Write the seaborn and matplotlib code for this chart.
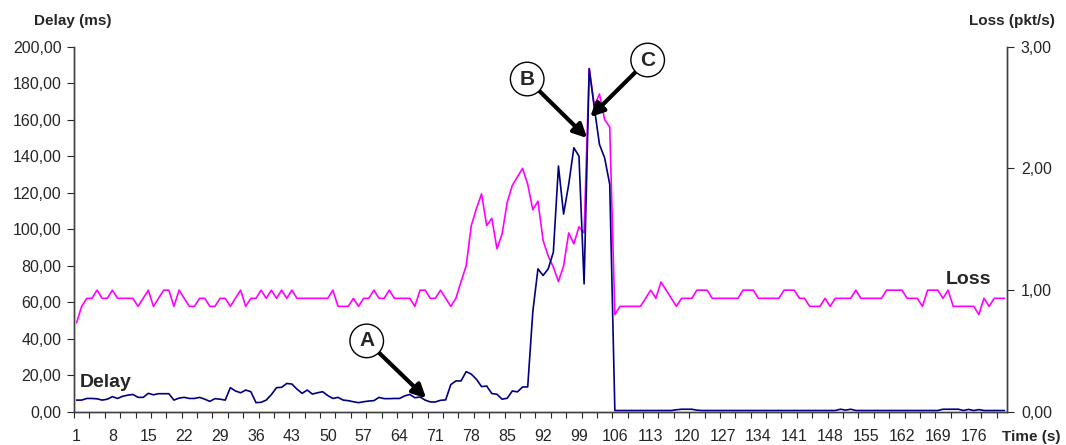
import matplotlib
matplotlib.use("Agg")
import matplotlib.pyplot as plt
import seaborn as sns
import pandas as pd
import numpy as np

# Delay (ms), one value per second
delay = [6.5, 6.5, 7.4, 7.4, 7.2, 6.5, 7.0, 8.4, 7.4, 8.6,
         9.2, 9.6, 8.0, 8.0, 10.2, 9.4, 10.0, 10.0, 10.0, 6.5,
         7.6, 8.0, 7.4, 7.4, 8.0, 7.0, 5.8, 7.3, 7.0, 6.5,
         13.3, 11.5, 10.5, 12.0, 11.1, 5.1, 5.3, 6.5, 9.5, 13.3,
         13.5, 15.6, 15.3, 12.5, 10.2, 12.0, 9.8, 10.5, 11.1, 9.0,
         7.4, 8.0, 6.5, 6.2, 5.6, 5.1, 5.6, 6.0, 6.2, 8.0,
         7.3, 7.3, 7.4, 7.4, 8.8, 9.6, 7.8, 8.2, 6.5, 5.5,
         5.5, 6.4, 6.6, 15.0, 17.0, 17.0, 22.1, 20.7, 17.9, 13.9,
         14.2, 10.1, 9.7, 7.0, 7.5, 11.5, 11.0, 13.7, 13.7, 55.0,
         78.3, 74.7, 78.3, 87.4, 134.6, 108.3, 124.6, 144.6, 140.0, 70.1,
         187.8, 166.4, 146.4, 139.1, 124.6, 0.8, 0.8, 0.8, 0.8, 0.8,
         0.8, 0.8, 0.8, 0.8, 0.8, 0.8, 0.8, 1.2, 1.5, 1.5,
         1.5, 1.0, 0.8, 0.8, 0.8, 0.8, 0.8, 0.8, 0.8, 0.8,
         0.8, 0.8, 0.8, 0.8, 0.8, 0.8, 0.8, 0.8, 0.8, 0.8,
         0.8, 0.8, 0.8, 0.8, 0.8, 0.8, 0.8, 0.8, 0.8, 1.5,
         1.0, 1.5, 0.8, 0.8, 0.8, 0.8, 0.8, 0.8, 0.8, 0.8,
         0.8, 0.8, 0.8, 0.8, 0.8, 0.8, 0.8, 0.8, 0.8, 1.5,
         1.5, 1.5, 1.5, 0.8, 1.4, 0.8, 1.3, 0.8, 0.8, 0.8,
         0.8, 0.8]

# Loss (pkt/s)
loss = [0.733, 0.867, 0.933, 0.933, 1.0, 0.933, 0.933, 1.0, 0.933, 0.933,
        0.933, 0.933, 0.867, 0.933, 1.0, 0.867, 0.933, 1.0, 1.0, 0.867,
        1.0, 0.933, 0.867, 0.867, 0.933, 0.933, 0.867, 0.867, 0.933, 0.933,
        0.867, 0.933, 1.0, 0.867, 0.933, 0.933, 1.0, 0.933, 1.0, 0.933,
        1.0, 0.933, 1.0, 0.933, 0.933, 0.933, 0.933, 0.933, 0.933, 0.933,
        1.0, 0.867, 0.867, 0.867, 0.933, 0.867, 0.933, 0.933, 1.0, 0.933,
        0.933, 1.0, 0.933, 0.933, 0.933, 0.933, 0.867, 1.0, 1.0, 0.933,
        0.933, 1.0, 0.933, 0.867, 0.933, 1.07, 1.20, 1.53, 1.67, 1.79,
        1.53, 1.59, 1.34, 1.46, 1.72, 1.86, 1.93, 2.0, 1.87, 1.66,
        1.73, 1.41, 1.28, 1.19, 1.07, 1.20, 1.47, 1.38, 1.52, 1.47,
        2.82, 2.51, 2.61, 2.40, 2.34, 0.80, 0.867, 0.867, 0.867, 0.867,
        0.867, 0.933, 1.0, 0.933, 1.067, 1.0, 0.933, 0.867, 0.933, 0.933,
        0.933, 1.0, 1.0, 1.0, 0.933, 0.933, 0.933, 0.933, 0.933, 0.933,
        1.0, 1.0, 1.0, 0.933, 0.933, 0.933, 0.933, 0.933, 1.0, 1.0,
        1.0, 0.933, 0.933, 0.867, 0.867, 0.867, 0.933, 0.867, 0.933, 0.933,
        0.933, 0.933, 1.0, 0.933, 0.933, 0.933, 0.933, 0.933, 1.0, 1.0,
        1.0, 1.0, 0.933, 0.933, 0.933, 0.867, 1.0, 1.0, 1.0, 0.933,
        1.0, 0.867, 0.867, 0.867, 0.867, 0.867, 0.80, 0.933, 0.867, 0.933,
        0.933, 0.933]

time_s = list(range(1, len(delay) + 1))
time_labels = list(range(1, 177, 7))

df = pd.DataFrame({"time": time_s, "delay": delay, "loss": loss})

sns.set_style("white")
plt.rcParams["font.family"] = ["Liberation Sans", "DejaVu Sans"]

fig = plt.figure(figsize=(10.66, 4.45), dpi=100)
ax = fig.add_axes([0.0694, 0.0742, 0.8753, 0.8213])
ax2 = ax.twinx()

sns.lineplot(data=df, x="time", y="delay", ax=ax, color="#000080", linewidth=1.2)
sns.lineplot(data=df, x="time", y="loss", ax=ax2, color="#FF00FF", linewidth=1.2)

ax.set_xlim(0.5, len(delay) + 0.5)
ax.set_ylim(0, 200)
ax2.set_ylim(0, 3)

def comma(v):
    return f"{v:.2f}".replace(".", ",")

ax.set_yticks(np.arange(0, 201, 20))
ax.set_yticklabels([comma(v) for v in np.arange(0, 201, 20)])
ax2.set_yticks([0, 1, 2, 3])
ax2.set_yticklabels([comma(v) for v in [0, 1, 2, 3]])

ax.set_xticks(time_labels)
ax.set_xticklabels([str(t) for t in time_labels])
ax.set_xticks(np.arange(0.5, len(delay) + 0.6, 3), minor=True)

ax.tick_params(axis="x", which="major", length=0, pad=12, labelsize=11.5)
ax.tick_params(axis="x", which="minor", length=4, direction="out", width=0.8, bottom=True)
ax.tick_params(axis="y", length=5, direction="out", pad=4, labelsize=11.5, left=True)
ax2.tick_params(axis="y", length=5, direction="out", pad=5, labelsize=11.5, right=True)

ax.set_xlabel("")
ax.set_ylabel("")
ax2.set_ylabel("")

for a in (ax, ax2):
    a.spines["top"].set_visible(False)
    for s in ("left", "right", "bottom"):
        a.spines[s].set_color("#404040")
        a.spines[s].set_linewidth(1.0)

# axis titles
fig.text(73 / 1066, 1 - 21 / 445, "Delay (ms)", ha="center", va="center",
         fontsize=11, fontweight="bold")
fig.text(1012 / 1066, 1 - 21 / 445, "Loss (pkt/s)", ha="center", va="center",
         fontsize=11, fontweight="bold")
fig.text(1031 / 1066, 1 - 437 / 445, "Time (s)", ha="center", va="center",
         fontsize=11, fontweight="bold")

# series labels
ax.text(1.7, 13.8, "Delay", fontsize=14, fontweight="bold", ha="left", va="baseline")
ax.text(170.6, 70.0, "Loss", fontsize=14, fontweight="bold", ha="left", va="baseline")

# event markers
circle = dict(boxstyle="circle,pad=0.35", fc="white", ec="black", lw=1.0)
arrow = dict(arrowstyle="-|>", color="black", lw=3, mutation_scale=20, shrinkA=0, shrinkB=0)
events = [("A", (57.6, 38.9), (69.2, 7.5)),
          ("B", (88.9, 182.2), (100.6, 149.9)),
          ("C", (112.4, 192.6), (101.2, 161.4))]
for label, center, tip in events:
    ax.annotate(label, xy=tip, xytext=center, xycoords="data", textcoords="data",
                ha="center", va="center", fontsize=15, fontweight="bold",
                bbox=circle, arrowprops=arrow, zorder=10, annotation_clip=False)

ax.set_zorder(ax2.get_zorder() + 1)
ax.patch.set_visible(False)

fig.savefig("out.png", dpi=100)
